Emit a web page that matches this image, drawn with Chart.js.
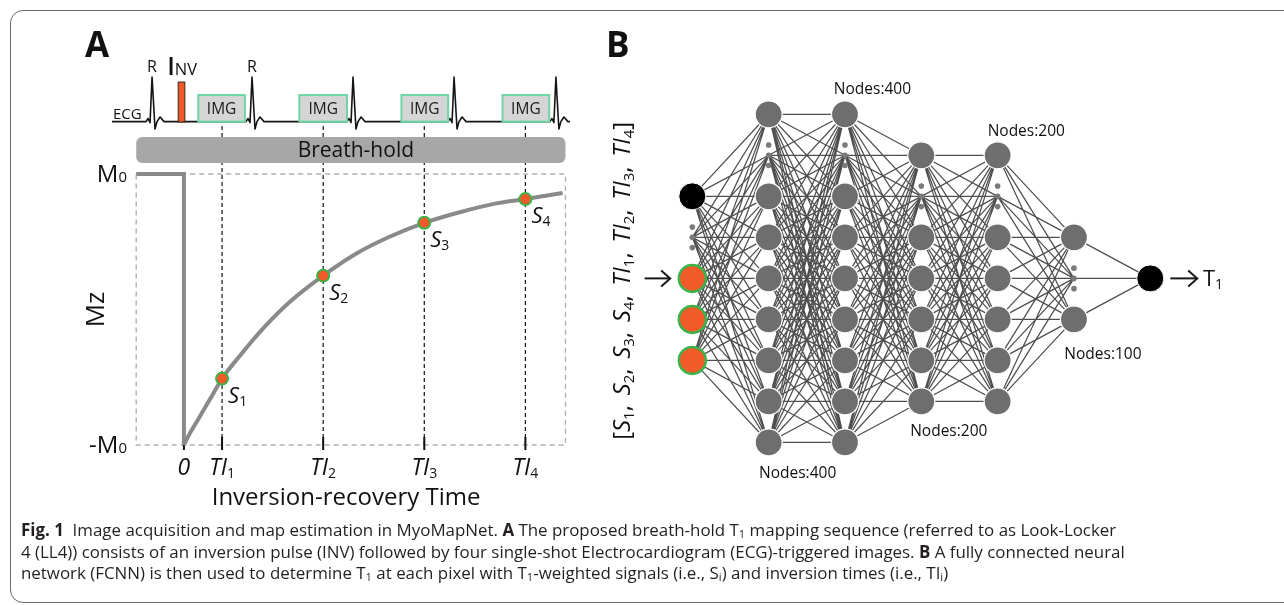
<!DOCTYPE html>
<html>
<head>
<meta charset="utf-8">
<script src="https://cdn.jsdelivr.net/npm/chart.js@4.4.1/dist/chart.umd.min.js"></script>
<style>
html,body{margin:0;padding:0;background:#fff;}
body{width:1284px;height:605px;position:relative;overflow:hidden;font-family:"Open Sans","Noto Sans",sans-serif;}
#frame{position:absolute;left:10px;top:10px;width:1300px;height:593px;border:1.5px solid #6b6b6b;border-radius:13px;box-sizing:border-box;}
#ca{position:absolute;left:0;top:0;}
#cb{position:absolute;left:600px;top:0;}
#caption{position:absolute;left:21px;top:519px;font-size:15px;line-height:21.5px;color:#231f20;white-space:nowrap;}
#caption sub{font-size:0.66em;vertical-align:-0.2em;line-height:0;}
#caption b{font-weight:700;}
</style>
</head>
<body>
<div id="frame"></div>
<canvas id="ca" width="600" height="520"></canvas>
<canvas id="cb" width="684" height="520"></canvas>
<div id="caption"><span id="l1"><b>Fig. 1</b>&nbsp; Image acquisition and map estimation in MyoMapNet. <b>A</b> The proposed breath-hold T<sub>1</sub> mapping sequence (referred to as Look-Locker</span><br><span id="l2">4 (LL4)) consists of an inversion pulse (INV) followed by four single-shot Electrocardiogram (ECG)-triggered images. <b>B</b> A fully connected neural</span><br><span id="l3">network (FCNN) is then used to determine T<sub>1</sub> at each pixel with T<sub>1</sub>-weighted signals (i.e., S<sub>i</sub>) and inversion times (i.e., TI<sub>i</sub>)</span></div>
<script>
// ================= Panel A data =================
const tiLabels   = ['0', 'TI1', 'TI2', 'TI3', 'TI4'];
const tiTimes    = [0, 0.40, 1.46, 2.52, 3.58];
const curveTimes = [0, 0.05, 0.15, 0.30, 0.40, 0.60, 0.85, 1.10, 1.46, 1.80, 2.15, 2.52, 2.90, 3.25, 3.58, 3.97];
const curveMz    = [-1, -0.93, -0.81, -0.63, -0.51, -0.33, -0.125, 0.05, 0.25, 0.41, 0.535, 0.64, 0.72, 0.78, 0.815, 0.86];
const stepTimes  = [-0.5, 0, 0];
const stepMz     = [1, 1, -1];
const sLabels    = ['S1', 'S2', 'S3', 'S4'];
const sTimes     = [0.40, 1.46, 2.52, 3.58];
const sMz        = [-0.51, 0.25, 0.64, 0.815];
const ecgTimes   = [-0.754,
  -0.397, -0.376, -0.355, -0.334, -0.303, -0.282, -0.250, -0.208,
   0.651,  0.672,  0.693,  0.714,  0.745,  0.766,  0.798,  0.840,
   1.710,  1.731,  1.752,  1.773,  1.804,  1.825,  1.857,  1.899,
   2.769,  2.790,  2.811,  2.832,  2.863,  2.884,  2.916,  2.958,
   3.837,  3.858,  3.879,  3.900,  3.931,  3.952,  3.984,  4.026, 4.047];
const ecgValues  = [1.387,
  1.387, 1.41, 1.38, 1.716, 1.332, 1.387, 1.421, 1.387,
  1.387, 1.41, 1.38, 1.716, 1.332, 1.387, 1.421, 1.387,
  1.387, 1.41, 1.38, 1.716, 1.332, 1.387, 1.421, 1.387,
  1.387, 1.41, 1.38, 1.716, 1.332, 1.387, 1.421, 1.387,
  1.387, 1.41, 1.38, 1.716, 1.332, 1.387, 1.421, 1.387, 1.387];
const rPeakTimes = [-0.334, 0.714];
const imgStart   = [0.15, 1.21, 2.28, 3.34];
const imgEnd     = [0.64, 1.71, 2.77, 3.83];
const invPulse   = [-0.06, 0.01];
const plotTime   = [-0.5, 4.0];
const mzRange    = [-1, 1];

// ================= Panel B data =================
const inputRows    = [2, 4, 5, 6];
const inputKinds   = ['black', 'orange', 'orange', 'orange'];
const rows400      = [0, 2, 3, 4, 5, 6, 7, 8];
const rows200      = [1, 3, 4, 5, 6, 7];
const rows100      = [3, 5];
const outputRows   = [4];
const ellipsisRows = [3, 1, 1, 2, 2, 4];
const layerRows    = [inputRows, rows400, rows400, rows200, rows200, rows100, outputRows];
const nodeLabels   = ['Nodes:400', 'Nodes:400', 'Nodes:200', 'Nodes:200', 'Nodes:100'];
const inputNames   = ['S1', 'S2', 'S3', 'S4', 'TI1', 'TI2', 'TI3', 'TI4'];

const FONT = '"Open Sans","Noto Sans",sans-serif';
const fnt = (size, style) => `${style || ''} ${size}px ${FONT}`.trim();

function richWidth(ctx, parts) {
  let w = 0;
  for (const p of parts) { ctx.font = p.f; w += ctx.measureText(p.t).width + (p.gap || 0); }
  return w;
}
function drawRich(ctx, parts, x, y, align) {
  const w = richWidth(ctx, parts);
  let cx = align === 'center' ? x - w / 2 : align === 'right' ? x - w : x;
  ctx.textAlign = 'left'; ctx.textBaseline = 'alphabetic';
  for (const p of parts) {
    ctx.font = p.f;
    ctx.fillText(p.t, cx, y + (p.dy || 0));
    cx += ctx.measureText(p.t).width + (p.gap || 0);
  }
}
function subParts(label, size, subSize, dy, style) {
  const m = label.match(/^([A-Za-z]+)(\d+)$/);
  if (!m) return [{ t: label, f: fnt(size, style) }];
  return [{ t: m[1], f: fnt(size, style) }, { t: m[2], f: fnt(subSize), dy: dy }];
}

const panelA = {
  id: 'panelA',
  beforeDatasetsDraw(chart) {
    const { ctx, scales: { x, y } } = chart;
    const X = v => x.getPixelForValue(v), Y = v => y.getPixelForValue(v);
    ctx.save();
    ctx.strokeStyle = '#b0b0b0'; ctx.lineWidth = 1.4; ctx.setLineDash([5, 4]);
    ctx.strokeRect(X(plotTime[0]), Y(mzRange[1]), X(plotTime[1]) - X(plotTime[0]), Y(mzRange[0]) - Y(mzRange[1]));
    ctx.strokeStyle = '#111'; ctx.lineWidth = 1.2; ctx.setLineDash([4, 3]);
    for (let i = 1; i < tiTimes.length; i++) {
      ctx.beginPath(); ctx.moveTo(X(tiTimes[i]), Y(1.354)); ctx.lineTo(X(tiTimes[i]), Y(mzRange[0])); ctx.stroke();
    }
    ctx.setLineDash([]); ctx.lineWidth = 2;
    for (const t of tiTimes) {
      ctx.beginPath(); ctx.moveTo(X(t), Y(mzRange[0]) - 8); ctx.lineTo(X(t), Y(mzRange[0]) + 5); ctx.stroke();
    }
    const bl = X(plotTime[0]), br = X(plotTime[1]), bt = Y(1.273), bb = Y(1.081);
    ctx.fillStyle = '#a7a7a7';
    ctx.beginPath(); ctx.roundRect(bl, bt, br - bl, bb - bt, 6); ctx.fill();
    ctx.fillStyle = '#111'; ctx.font = fnt(21); ctx.textAlign = 'center'; ctx.textBaseline = 'alphabetic';
    ctx.fillText('Breath-hold', (bl + br) / 2 + 5, bb - 6);
    ctx.restore();
  },
  afterDatasetsDraw(chart) {
    const { ctx, scales: { x, y } } = chart;
    const X = v => x.getPixelForValue(v), Y = v => y.getPixelForValue(v);
    ctx.save();
    ctx.setLineDash([]);
    for (let i = 0; i < imgStart.length; i++) {
      const l = X(imgStart[i]), r = X(imgEnd[i]), t = Y(1.583), b = Y(1.387);
      ctx.fillStyle = '#d5d5d5'; ctx.fillRect(l, t, r - l, b - t);
      ctx.strokeStyle = '#6ed6a6'; ctx.lineWidth = 2; ctx.strokeRect(l, t, r - l, b - t);
      ctx.fillStyle = '#1a1a1a'; ctx.font = fnt(15.5); ctx.textAlign = 'center'; ctx.textBaseline = 'alphabetic';
      ctx.fillText('IMG', (l + r) / 2, b - 8);
    }
    {
      const l = X(invPulse[0]), r = X(invPulse[1]), t = Y(1.679), b = Y(1.384);
      ctx.fillStyle = '#f05a28'; ctx.fillRect(l, t, r - l, b - t);
      ctx.strokeStyle = '#3a2a20'; ctx.lineWidth = 1; ctx.strokeRect(l, t, r - l, b - t);
    }
    ctx.fillStyle = '#111';
    ctx.font = fnt(16); ctx.textAlign = 'center'; ctx.textBaseline = 'alphabetic';
    for (const t of rPeakTimes) ctx.fillText('R', X(t), 72);
    drawRich(ctx, [{ t: 'I', f: '600 25px ' + FONT, gap: 0 }, { t: 'NV', f: fnt(16.5) }], X(invPulse[0]) - 11, 75, 'left');
    ctx.font = fnt(15); ctx.textAlign = 'left'; ctx.fillText('ECG', 113, 119);
    drawRich(ctx, [{ t: 'M', f: fnt(24) }, { t: '0', f: fnt(15) }], 127, Y(mzRange[1]) + 8, 'right');
    drawRich(ctx, [{ t: '-M', f: fnt(24) }, { t: '0', f: fnt(15) }], 127, Y(mzRange[0]) + 8, 'right');
    ctx.save(); ctx.translate(104, Y(0)); ctx.rotate(-Math.PI / 2);
    ctx.font = fnt(26); ctx.textAlign = 'center'; ctx.textBaseline = 'alphabetic'; ctx.fillText('Mz', 0, 0);
    ctx.restore();
    for (let i = 0; i < tiTimes.length; i++) {
      drawRich(ctx, subParts(tiLabels[i], 23, 14, 3, 'italic'), X(tiTimes[i]), Y(mzRange[0]) + 30, 'center');
    }
    for (let i = 0; i < sTimes.length; i++) {
      drawRich(ctx, subParts(sLabels[i], 22, 14, 3, 'italic'), X(sTimes[i]) + 6, Y(sMz[i]) + 24, 'left');
    }
    ctx.font = fnt(24); ctx.textAlign = 'center'; ctx.fillText('Inversion-recovery Time', X(1.70), 505);
    ctx.font = 'bold 35px ' + FONT; ctx.textAlign = 'left'; ctx.fillText('A', 85, 57);
    ctx.restore();
  }
};

new Chart(document.getElementById('ca'), {
  type: 'scatter',
  data: {
    datasets: [
      { label: 'signals', data: sTimes.map((t, i) => ({ x: t, y: sMz[i] })),
        pointRadius: 6, pointBackgroundColor: '#f15a29', pointBorderColor: '#3bb54a', pointBorderWidth: 2, order: 0 },
      { label: 'recovery', data: curveTimes.map((t, i) => ({ x: t, y: curveMz[i] })), showLine: true,
        borderColor: '#8a8a8a', borderWidth: 4, pointRadius: 0, cubicInterpolationMode: 'monotone', order: 1 },
      { label: 'inversion', data: stepTimes.map((t, i) => ({ x: t, y: stepMz[i] })), showLine: true,
        borderColor: '#8a8a8a', borderWidth: 4, pointRadius: 0, borderJoinStyle: 'miter', order: 1 },
      { label: 'ECG', data: ecgTimes.map((t, i) => ({ x: t, y: ecgValues[i] })), showLine: true,
        borderColor: '#141414', borderWidth: 1.6, pointRadius: 0, borderJoinStyle: 'round', order: 2 }
    ]
  },
  options: {
    responsive: false, animation: false, events: [],
    layout: { padding: { left: 107.6, right: 25, top: 25, bottom: 47.9 } },
    scales: {
      x: { type: 'linear', min: -0.8, max: 4.1, display: false },
      y: { type: 'linear', min: -1.2, max: 2.1, display: false }
    },
    plugins: { legend: { display: false }, tooltip: { enabled: false } }
  },
  plugins: [panelA]
});

// ================= Panel B =================
const edgeSets = [];
for (let i = 0; i < layerRows.length - 1; i++) {
  const from = layerRows[i].concat([ellipsisRows[i]]);
  const to = layerRows[i + 1].concat(i + 1 < ellipsisRows.length ? [ellipsisRows[i + 1]] : []);
  const d = [];
  for (const a of from) for (const b of to) { d.push({ x: i, y: a }, { x: i + 1, y: b }, { x: null, y: null }); }
  edgeSets.push({ label: 'edges' + i, data: d, showLine: true, spanGaps: false, borderColor: '#4f4f4f',
    borderWidth: 1.25, pointRadius: 0, order: 10 });
}
const grayNodes = [];
for (let i = 1; i <= 5; i++) for (const r of layerRows[i]) grayNodes.push({ x: i, y: r });
const blackNodes = [{ x: 0, y: inputRows[inputKinds.indexOf('black')] }, { x: 6, y: outputRows[0] }];
const orangeNodes = inputRows.filter((r, k) => inputKinds[k] === 'orange').map(r => ({ x: 0, y: r }));
const dots = [];
ellipsisRows.forEach((e, i) => { dots.push({ x: i, y: e - 0.25 }, { x: i, y: e }, { x: i, y: e + 0.25 }); });

const panelB = {
  id: 'panelB',
  afterDatasetsDraw(chart) {
    const { ctx, scales: { x, y } } = chart;
    const X = v => x.getPixelForValue(v), Y = v => y.getPixelForValue(v);
    ctx.save();
    ctx.fillStyle = '#111';
    ctx.font = fnt(15.5); ctx.textAlign = 'center'; ctx.textBaseline = 'alphabetic';
    const lp = [[2.36, -0.5], [4.375, 0.53], [5.38, 5.97], [3.36, 7.84], [1.38, 8.86]];
    const order = [0, 2, 4, 3, 1];
    lp.forEach((p, k) => ctx.fillText(nodeLabels[order[k]], X(p[0]), Y(p[1])));
    ctx.strokeStyle = '#1a1a1a'; ctx.lineWidth = 2; ctx.lineJoin = 'miter';
    const arrow = (x0, x1, yy) => {
      ctx.beginPath(); ctx.moveTo(x0, yy); ctx.lineTo(x1, yy); ctx.stroke();
      ctx.beginPath(); ctx.moveTo(x1 - 9, yy - 8); ctx.lineTo(x1, yy); ctx.lineTo(x1 - 9, yy + 8); ctx.stroke();
    };
    arrow(X(-0.625), X(-0.29), Y(4));
    arrow(X(6.263), X(6.615), Y(4));
    drawRich(ctx, [{ t: 'T', f: fnt(22) }, { t: '1', f: fnt(14), dy: 3 }], X(6.69), Y(4) + 8, 'left');
    const parts = [{ t: '[', f: fnt(24) }];
    inputNames.forEach((n, k) => {
      subParts(n, 24, 15, 4, 'italic').forEach(p => parts.push(p));
      if (k < inputNames.length - 1) parts.push({ t: ',', f: fnt(24), gap: 0 });
    });
    parts.push({ t: ']', f: fnt(24) });
    const natural = richWidth(ctx, parts);
    const extra = (318 - natural) / (inputNames.length - 1);
    parts.forEach(p => { if (p.t === ',') p.gap = extra; });
    ctx.save(); ctx.translate(X(-0.82), Y(4.06)); ctx.rotate(-Math.PI / 2);
    drawRich(ctx, parts, 0, 0, 'center');
    ctx.restore();
    ctx.font = 'bold 35px ' + FONT; ctx.textAlign = 'left'; ctx.fillText('B', 6, 57);
    ctx.restore();
  }
};

new Chart(document.getElementById('cb'), {
  type: 'scatter',
  data: {
    datasets: [
      { label: 'orange', data: orangeNodes, pointRadius: 13.5, pointBackgroundColor: '#f15a29', pointBorderColor: '#3bb54a', pointBorderWidth: 2.5, order: 0 },
      { label: 'black', data: blackNodes, pointRadius: 13.5, pointBackgroundColor: '#000', pointBorderColor: '#fff', pointBorderWidth: 1, order: 0 },
      { label: 'gray', data: grayNodes, pointRadius: 13.5, pointBackgroundColor: '#6e6e6e', pointBorderColor: '#ffffff', pointBorderWidth: 1.2, order: 0 },
      { label: 'dots', data: dots, pointRadius: 2.8, pointBackgroundColor: '#7a7a7a', pointBorderWidth: 0, order: 5 },
      ...edgeSets
    ]
  },
  options: {
    responsive: false, animation: false, events: [],
    layout: { padding: { left: 12.2, right: 57.4, top: 32.25, bottom: 6.2 } },
    scales: {
      x: { type: 'linear', min: -1, max: 7, display: false },
      y: { type: 'linear', min: -2, max: 9.5, reverse: true, display: false }
    },
    plugins: { legend: { display: false }, tooltip: { enabled: false } }
  },
  plugins: [panelB]
});

(function fitCaption() {
  const cap = document.getElementById('caption');
  const w = document.getElementById('l1').getBoundingClientRect().width;
  cap.style.fontSize = (15 * 1096 / w).toFixed(2) + 'px';
})();
</script>
</body>
</html>
